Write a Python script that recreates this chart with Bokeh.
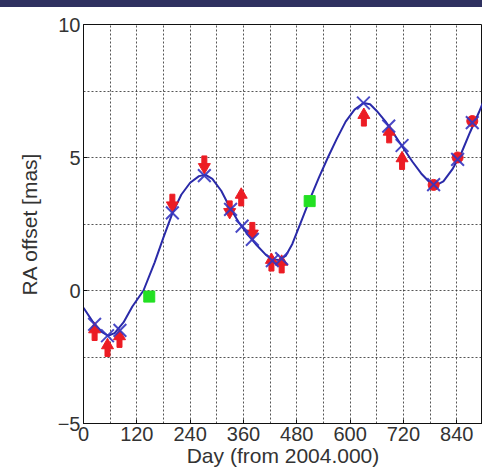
import numpy as np
from bokeh.plotting import figure
from bokeh.models import FixedTicker, Range1d, Div
from bokeh.layouts import column
from bokeh.embed import file_html
from bokeh.resources import INLINE

# ---- data ----
curve_day = [0, 20, 40, 55, 70, 90, 110, 135, 160, 180, 200, 220, 240, 260, 275,
             290, 310, 330, 350, 370, 390, 410, 425, 440, 455, 470, 490, 510, 530,
             550, 570, 590, 610, 630, 645, 660, 680, 700, 720, 740, 760, 780, 795,
             810, 830, 850, 870, 890, 900]
curve_ra = [-0.65, -1.15, -1.55, -1.7, -1.6, -1.2, -0.6, 0.0, 1.05, 2.0, 2.9, 3.6,
            4.05, 4.3, 4.35, 4.2, 3.75, 3.1, 2.55, 2.1, 1.7, 1.35, 1.17, 1.15, 1.3,
            1.75, 2.6, 3.45, 4.25, 5.0, 5.7, 6.35, 6.8, 7.05, 7.0, 6.75, 6.35, 5.85,
            5.35, 4.85, 4.4, 4.05, 3.97, 4.1, 4.55, 5.15, 5.95, 6.7, 7.1]

model_day = [25, 54, 82, 200, 272, 331, 357, 380, 425, 446, 630, 687, 717, 788, 842, 875]
model_ra = [-1.27, -1.7, -1.5, 2.92, 4.32, 3.05, 2.42, 1.92, 1.12, 1.2, 7.05, 6.18,
            5.45, 3.98, 4.93, 6.31]

arrow_day = [25, 54, 81, 200, 272, 329, 355, 380, 423, 446, 631, 688, 717]
arrow_ra = [-1.56, -2.16, -1.82, 3.30, 4.74, 3.05, 3.5, 2.24, 1.05, 0.98, 6.5, 5.87, 4.87]
arrow_dir = [1, 1, 1, -1, -1, -1, 1, -1, 1, 1, 1, 1, 1]

dot_day = [788, 842, 875]
dot_ra = [3.97, 5.0, 6.37]

green_day = [148, 509]
green_ra = [-0.23, 3.36]

x_ticks = [0, 120, 240, 360, 480, 600, 720, 840]
x_grid = [60, 120, 180, 240, 300, 360, 420, 480, 540, 600, 660, 720, 780, 840]
y_ticks = [-5, 0, 5, 10]
y_grid = [-2.5, 0, 2.5, 5, 7.5]

# ---- figure ----
FONT = "Liberation Sans"
p = figure(width=482, height=468, output_backend="svg", toolbar_location=None,
           x_range=Range1d(0, 898), y_range=Range1d(-5, 10),
           min_border_left=83, min_border_right=0, min_border_top=17,
           min_border_bottom=52, title=None)
p.background_fill_color = "white"
p.border_fill_color = "white"
p.outline_line_color = "#111111"
p.outline_line_width = 1

for ax in (p.xaxis[0], p.yaxis[0]):
    ax.axis_line_color = "#111111"
    ax.major_tick_in = 4
    ax.major_tick_out = 0
    ax.minor_tick_in = 0
    ax.minor_tick_out = 0
    ax.major_tick_line_color = "#111111"
    ax.major_label_text_font = FONT
    ax.major_label_text_font_size = "20px"
    ax.major_label_text_color = "#333333"
    ax.axis_label_text_font = FONT
    ax.axis_label_text_font_size = "21px"
    ax.axis_label_text_font_style = "normal"
    ax.axis_label_text_color = "#333333"

p.xaxis.ticker = FixedTicker(ticks=x_ticks)
p.yaxis.ticker = FixedTicker(ticks=y_ticks)
p.xaxis.axis_label = "Day (from 2004.000)"
p.yaxis.axis_label = "RA offset [mas]"
p.xaxis.major_label_standoff = 3
p.xaxis.axis_label_standoff = 0
p.yaxis.major_label_standoff = 3
p.yaxis.axis_label_standoff = 14

p.xgrid.ticker = FixedTicker(ticks=x_grid)
p.ygrid.ticker = FixedTicker(ticks=y_grid)
for g in (p.xgrid[0], p.ygrid[0]):
    g.grid_line_color = "#2a2a2a"
    g.grid_line_alpha = 0.8
    g.grid_line_dash = "2 2"
    g.grid_line_width = 1

# fitted curve
p.line(curve_day, curve_ra, line_color="#2a2aa8", line_width=2)

# red arrows (observed)
ad = np.array(arrow_day, dtype=float)
ar = np.array(arrow_ra, dtype=float)
adir = np.array(arrow_dir, dtype=float)
RED = "#ec1c24"
p.rect(x=ad, y=ar - adir * 0.15, width=5, height=9, width_units="screen",
       height_units="screen", fill_color=RED, line_color=RED)
up = adir > 0
p.scatter(ad[up], ar[up] + 0.1, marker="triangle", size=12,
          fill_color=RED, line_color=RED)
p.scatter(ad[~up], ar[~up] - 0.1, marker="inverted_triangle", size=12,
          fill_color=RED, line_color=RED)
p.scatter(dot_day, dot_ra, marker="circle", size=11, fill_color=RED, line_color=RED)

# model positions
p.scatter(model_day, model_ra, marker="x", size=18, line_color="#3535c0",
          line_width=2, line_alpha=0.9)

# green points
p.scatter(green_day, green_ra, marker="square", size=11, fill_color="#22e022",
          line_color="#22e022")

band = Div(text="", width=482, height=7, margin=0,
           styles={"background-color": "#2f3160", "width": "482px", "height": "7px"})
layout = column(band, p, spacing=0, margin=0)

open("out.html", "w").write(file_html(layout, INLINE))
